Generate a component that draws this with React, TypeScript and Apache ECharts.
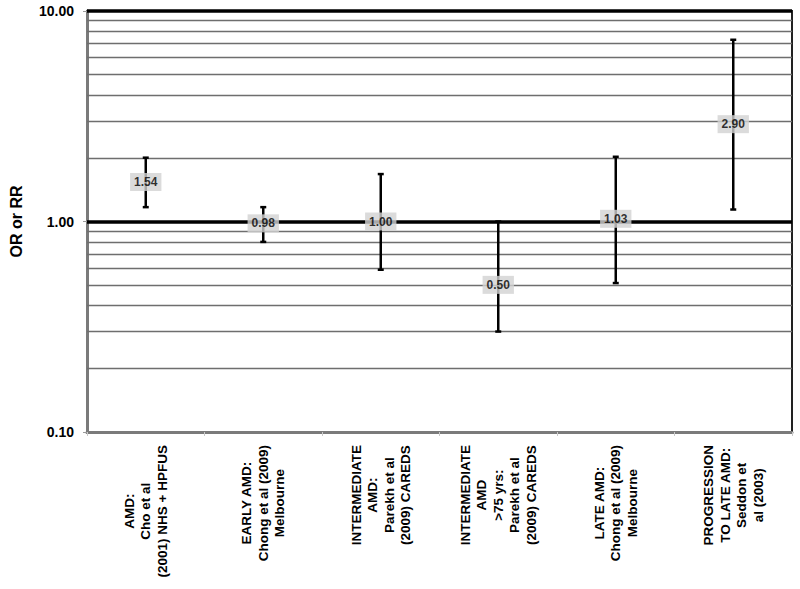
import React, { useEffect, useRef } from "react";
import * as echarts from "echarts";

const categories: string[] = [
  "AMD:\nCho et al\n(2001) NHS + HPFUS",
  "EARLY AMD:\nChong et al (2009)\nMelbourne",
  "INTERMEDIATE\nAMD:\nParekh et al\n(2009) CAREDS",
  "INTERMEDIATE\nAMD\n>75 yrs:\nParekh et al\n(2009) CAREDS",
  "LATE AMD:\nChong et al (2009)\nMelbourne",
  "PROGRESSION\nTO LATE AMD:\nSeddon et\nal (2003)",
];
const estimates: number[] = [1.54, 0.98, 1.0, 0.5, 1.03, 2.9];
const lowerCI: number[] = [1.17, 0.8, 0.59, 0.3, 0.51, 1.14];
const upperCI: number[] = [2.01, 1.17, 1.68, 1.0, 2.03, 7.3];
const minorGrid: number[] = [0.2, 0.3, 0.4, 0.5, 0.6, 0.7, 0.8, 0.9, 2, 3, 4, 5, 6, 7, 8, 9];
const majorGrid: number[] = [1, 10];

const FONT = "'Liberation Sans', Arial, sans-serif";

export default function App() {
  const ref = useRef<HTMLDivElement>(null);
  useEffect(() => {
    if (!ref.current) return;
    const chart = echarts.init(ref.current, null, { renderer: "svg" });
    const option: any = {
      animation: false,
      backgroundColor: "#ffffff",
      textStyle: { fontFamily: FONT },
      grid: {
        left: 73,
        right: 8,
        top: 11,
        bottom: 157,
        show: true,
        borderColor: "#222222",
        borderWidth: 2,
        backgroundColor: "transparent",
      },
      xAxis: {
        type: "category",
        data: categories,
        boundaryGap: true,
        axisLine: { show: true, lineStyle: { color: "#7a7a7a", width: 3 } },
        axisTick: { show: true, length: 4, lineStyle: { color: "#c8c8c8", width: 1 } },
        splitLine: { show: false },
        axisLabel: {
          interval: 0,
          rotate: 90,
          margin: 13,
          color: "#000",
          fontSize: 13.5,
          fontWeight: "bold",
          fontFamily: FONT,
          lineHeight: 16.5,
          formatter: (v: string) =>
            v
              .split("\n")
              .map((l) => "{c|" + l + "}")
              .join("\n"),
          rich: {
            c: {
              align: "center",
              fontSize: 13.5,
              fontWeight: "bold",
              fontFamily: FONT,
              lineHeight: 16.5,
              color: "#000",
            },
          },
        },
      },
      yAxis: {
        type: "log",
        logBase: 10,
        min: 0.1,
        max: 10,
        name: "OR or RR",
        nameLocation: "middle",
        nameRotate: 90,
        nameGap: 63,
        nameTextStyle: { fontSize: 16, fontWeight: "bold", color: "#000", fontFamily: FONT },
        axisLine: { show: true, lineStyle: { color: "#7a7a7a", width: 3 } },
        axisTick: { show: true, length: 4, lineStyle: { color: "#9a9a9a", width: 1 } },
        splitLine: { show: false },
        minorTick: { show: false },
        axisLabel: {
          margin: 13,
          color: "#000",
          fontSize: 14,
          fontWeight: "bold",
          fontFamily: FONT,
          formatter: (v: number) => Number(v).toFixed(2),
        },
      },
      series: [
        {
          type: "line",
          data: [],
          z: 1,
          silent: true,
          markLine: {
            z: 1,
            silent: true,
            symbol: ["none", "none"],
            label: { show: false },
            lineStyle: { color: "#6e6e6e", width: 1.3, type: "solid" },
            data: minorGrid.map((v) => ({ yAxis: v })),
          },
        },
        {
          type: "line",
          data: [],
          z: 2,
          silent: true,
          markLine: {
            z: 2,
            silent: true,
            symbol: ["none", "none"],
            label: { show: false },
            lineStyle: { color: "#000000", width: 3.5, type: "solid" },
            data: majorGrid.map((v) => ({ yAxis: v })),
          },
        },
        {
          type: "custom",
          z: 3,
          silent: true,
          data: categories.map((_, i) => [i, lowerCI[i], upperCI[i]]),
          renderItem: (params: any, api: any) => {
            const i = api.value(0);
            const lo = api.coord([i, api.value(1)]);
            const hi = api.coord([i, api.value(2)]);
            const w = 3;
            const st = { stroke: "#000", lineWidth: 2.5 };
            return {
              type: "group",
              children: [
                { type: "line", shape: { x1: lo[0], y1: lo[1], x2: hi[0], y2: hi[1] }, style: st },
                { type: "line", shape: { x1: lo[0] - w, y1: lo[1], x2: lo[0] + w, y2: lo[1] }, style: st },
                { type: "line", shape: { x1: hi[0] - w, y1: hi[1], x2: hi[0] + w, y2: hi[1] }, style: st },
              ],
            };
          },
        },
        {
          type: "scatter",
          z: 4,
          silent: true,
          symbolSize: 1,
          itemStyle: { color: "rgba(0,0,0,0)" },
          data: categories.map((_, i) => [i, estimates[i]]),
          label: {
            show: true,
            position: "inside",
            formatter: (p: any) => Number(p.value[1]).toFixed(2),
            fontSize: 12,
            fontWeight: "bold",
            color: "#000",
            fontFamily: FONT,
            backgroundColor: "#d2d2d2",
            padding: [3, 4],
            lineHeight: 12,
          },
        },
      ],
    };
    chart.setOption(option);
    return () => chart.dispose();
  }, []);
  return (
    <div
      ref={ref}
      style={{ position: "absolute", left: 0, top: 0, width: 800, height: 589 }}
    />
  );
}
